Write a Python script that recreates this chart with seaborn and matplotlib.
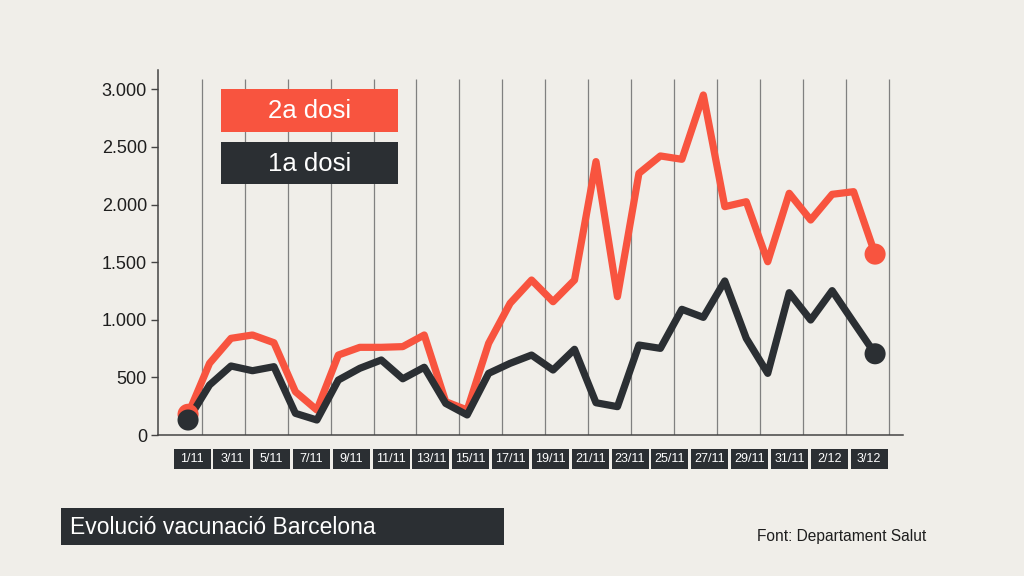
import numpy as np
import pandas as pd
import matplotlib
matplotlib.use("Agg")
import matplotlib.pyplot as plt
from matplotlib.patches import Rectangle
import seaborn as sns

# ---- data ----
days = list(range(33))  # 1/11 ... 3/12
dosi2 = [180, 622, 839, 868, 801, 376, 217, 694, 761, 761, 767, 868, 289, 217,
         796, 1143, 1345, 1157, 1345, 2373, 1201, 2271, 2422, 2393, 2951, 1982,
         2025, 1504, 2098, 1866, 2089, 2112, 1570]
dosi1 = [130, 434, 599, 558, 593, 188, 130, 477, 579, 651, 488, 588, 274, 174,
         535, 622, 694, 564, 744, 280, 246, 781, 752, 1091, 1021, 1337, 839,
         535, 1235, 998, 1253, 978, 705]
tick_labels = ["1/11", "3/11", "5/11", "7/11", "9/11", "11/11", "13/11", "15/11",
               "17/11", "19/11", "21/11", "23/11", "25/11", "27/11", "29/11",
               "31/11", "2/12", "3/12"]
yticks = [0, 500, 1000, 1500, 2000, 2500, 3000]
series_names = ["2a dosi", "1a dosi"]
title = "Evolució vacunació Barcelona"
source = "Font: Departament Salut"

RED = "#F8543F"
DARK = "#2B2F33"
BG = "#F0EEE9"

df = pd.DataFrame({
    "day": days * 2,
    "value": dosi2 + dosi1,
    "serie": [series_names[0]] * len(days) + [series_names[1]] * len(days),
})
ends = df[df["day"].isin([days[0], days[-1]])]

sns.set_theme(style="white")
plt.rcParams["font.family"] = ["Liberation Sans", "DejaVu Sans"]

fig = plt.figure(figsize=(10.24, 5.76), dpi=100, facecolor=BG)
W, H = 1024, 576
ax = fig.add_axes([158 / W, 1 - 435 / H, (903 - 158) / W, (435 - 70) / H])
ax.set_facecolor(BG)

# vertical guide lines
for g in np.arange(0.64, 33, 2.0):
    ax.plot([g, g], [0, 3090], color="#808080", lw=0.9, zorder=1, solid_capstyle="butt")

palette = {series_names[0]: RED, series_names[1]: DARK}
sns.lineplot(data=df, x="day", y="value", hue="serie", palette=palette,
             lw=5.2, ax=ax, legend=False, zorder=3, sort=True)
sns.scatterplot(data=ends, x="day", y="value", hue="serie", palette=palette,
                s=230, ax=ax, legend=False, zorder=4, edgecolor="none")

ax.set_xlim(-1.4, 33.3)
ax.set_ylim(0, 3168)
ax.set_yticks(yticks)
ax.set_yticklabels([f"{v:,}".replace(",", ".") for v in yticks], fontsize=13, color="#1E1E1E")
ax.tick_params(axis="y", length=5, width=1, color="#444444", pad=3, left=True)
ax.set_xticks([])
ax.set_xlabel("")
ax.set_ylabel("")
for s in ["top", "right"]:
    ax.spines[s].set_visible(False)
for s in ["left", "bottom"]:
    ax.spines[s].set_color("#444444")
    ax.spines[s].set_linewidth(1.1)

def px_rect(x0, y0, x1, y1, color):
    fig.add_artist(Rectangle((x0 / W, 1 - y1 / H), (x1 - x0) / W, (y1 - y0) / H,
                             transform=fig.transFigure, facecolor=color,
                             edgecolor="none", zorder=5))

# x label boxes
centers = np.linspace(192, 869, len(tick_labels))
for c, lab in zip(centers, tick_labels):
    px_rect(c - 18.5, 449, c + 18.5, 469, DARK)
    fig.text(c / W, 1 - 459.5 / H, lab, color="white", fontsize=9,
             ha="center", va="center", zorder=6)

# legend boxes
px_rect(221, 89, 398, 132, RED)
fig.text(309.5 / W, 1 - 111 / H, series_names[0], color="white", fontsize=18.5,
         ha="center", va="center", zorder=6)
px_rect(221, 142, 398, 184, DARK)
fig.text(309.5 / W, 1 - 163.5 / H, series_names[1], color="white", fontsize=18.5,
         ha="center", va="center", zorder=6)

# title box
px_rect(61, 508, 504, 545, DARK)
fig.text(70 / W, 1 - 527 / H, title, color="white", fontsize=16.5,
         ha="left", va="center", zorder=6)

fig.text(757 / W, 1 - 537 / H, source, color="#1E1E1E", fontsize=11.2,
         ha="left", va="center")

fig.savefig("out.png", dpi=100, facecolor=BG)
